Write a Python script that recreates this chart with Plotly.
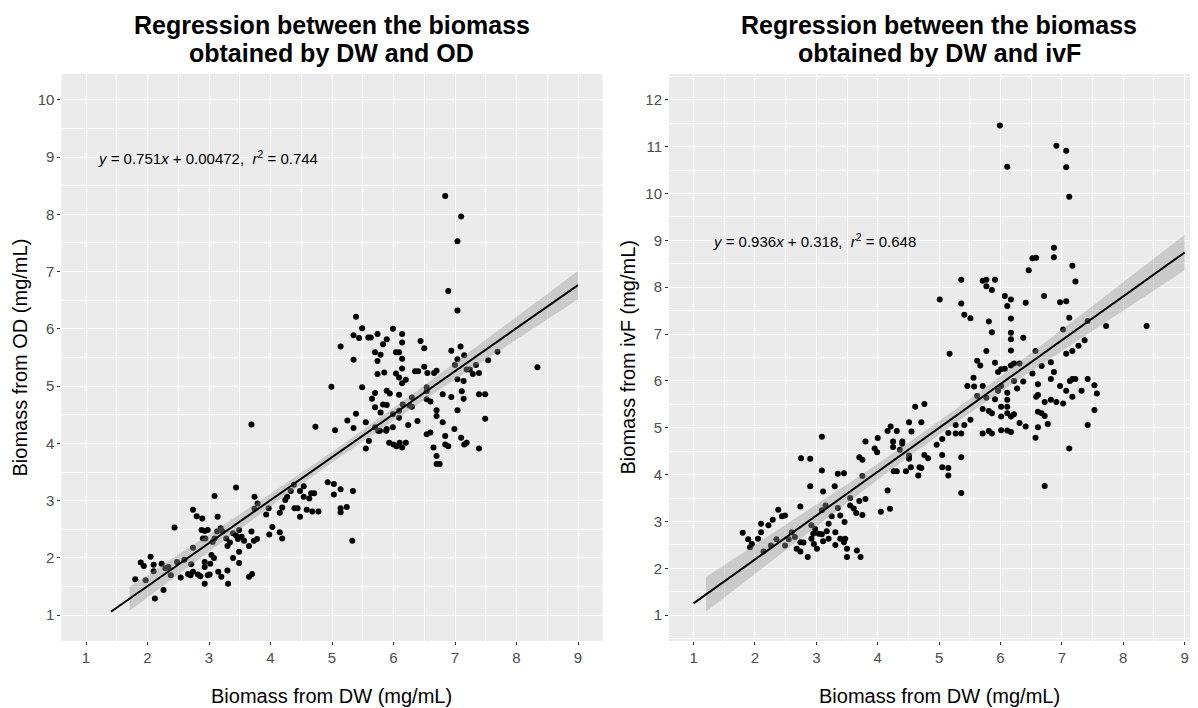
import numpy as np
import plotly.graph_objects as go

# ---------------- data ----------------
dw_od = [3.69, 4.73, 1.80, 1.97, 2.12, 2.26, 1.89, 1.94, 2.05, 2.10, 2.10, 2.23, 2.29, 2.34, 2.38, 2.44, 2.48, 2.54, 2.60, 2.66,
         2.70, 2.71, 2.74, 2.74, 2.80, 2.74, 2.82, 2.86, 2.89, 2.93, 2.93, 2.93, 2.98, 3.01, 3.02, 3.04, 3.08, 3.09, 3.14, 3.15,
         3.20, 3.30, 3.31, 3.39, 3.44, 3.49, 3.49, 3.65, 3.70,
         2.88, 2.93, 2.98, 2.90, 2.94, 3.06, 3.09, 3.13, 3.19, 3.22, 3.28, 3.30, 3.34, 3.39, 3.44, 3.47, 3.49, 3.53, 3.57, 3.65,
         3.69, 3.73, 3.78,
         3.74, 3.79, 3.74, 3.93, 3.97, 4.03, 3.98, 4.15, 4.19, 4.15, 4.19, 4.24, 4.27, 4.33, 4.38, 4.39, 4.44, 4.48, 4.48, 4.54,
         4.54, 4.59, 4.63, 4.66, 4.71, 4.68, 4.78, 4.93, 5.03, 5.03, 5.14, 5.14, 5.14, 5.24, 5.34, 5.33,
         6.84, 7.10, 7.04, 6.89, 7.04, 5.39, 5.49, 5.35, 5.44, 5.59, 5.63, 5.74, 5.83, 5.89, 5.99, 6.14, 6.14, 5.14, 5.35, 5.70,
         5.79, 5.74, 6.04, 6.09, 6.14, 6.44, 6.50, 5.74, 5.85, 6.09, 6.14, 6.20, 6.14, 6.35, 6.40, 6.50, 6.55, 6.66, 6.70, 6.94,
         7.09, 7.15, 7.04, 7.00, 7.19, 7.24, 7.34, 7.29, 7.39, 7.54, 7.69, 8.34, 7.04, 7.14, 4.99, 5.49, 5.70, 5.65, 5.89, 5.94,
         6.09, 5.70, 5.83, 5.89, 5.79, 5.39, 5.25, 5.55, 5.35, 5.05, 5.70, 5.78, 5.89, 5.99, 5.99, 6.09, 6.15, 6.30, 6.26, 6.09,
         6.24, 6.39, 6.54, 6.60, 6.54, 6.70, 6.70, 6.80, 6.80, 6.94, 7.04, 7.11, 7.14, 7.39, 7.49, 7.49, 6.99, 6.60, 6.54, 6.84,
         6.84, 6.89, 7.10, 7.15, 7.19, 7.39, 6.65, 6.70, 6.70, 6.75, 5.93, 6.00, 6.05, 6.10, 6.14, 6.20, 5.60, 5.55, 5.75, 5.88,
         6.04, 6.54, 6.30]
od = [4.33, 4.29, 1.63, 1.61, 1.29, 1.44, 1.92, 1.86, 2.02, 1.88, 1.77, 1.90, 1.82, 1.84, 1.70, 2.53, 1.93, 1.66, 1.97, 1.72,
      1.70, 1.89, 2.18, 2.84, 2.73, 1.76, 1.71, 1.68, 2.69, 1.93, 1.84, 1.55, 1.70, 1.71, 1.90, 2.05, 2.00, 3.08, 2.72, 1.76,
      1.67, 1.78, 1.55, 2.00, 3.23, 2.11, 1.91, 1.67, 1.72,
      2.49, 2.47, 2.49, 2.34, 2.34, 2.28, 2.34, 2.46, 2.52, 2.46, 2.34, 2.21, 2.27, 2.43, 2.39, 2.33, 2.49, 2.37, 2.30, 2.21,
      2.46, 2.30, 2.33,
      3.07, 2.95, 2.86, 2.76, 2.87, 2.54, 2.41, 2.45, 2.34, 2.79, 2.88, 3.01, 3.07, 3.17, 3.28, 2.87, 2.87, 3.17, 2.72, 3.25,
      3.07, 2.84, 3.04, 3.13, 3.13, 2.81, 2.81, 3.32, 3.29, 3.11, 3.20, 2.87, 2.80, 2.89, 3.17, 2.30,
      8.32, 7.96, 7.53, 6.66, 6.32, 6.21, 6.01, 5.89, 5.84, 5.85, 5.85, 5.91, 5.73, 5.82, 6.00, 5.91, 5.76, 5.69, 5.46, 5.59,
      5.55, 5.44, 5.59, 5.59, 5.48, 5.79, 5.66, 5.21, 5.24, 5.15, 5.31, 5.11, 5.05, 5.26, 5.26, 5.34, 5.23, 5.23, 5.27, 5.62,
      5.69, 5.54, 5.47, 5.37, 5.29, 5.29, 5.37, 5.21, 5.23, 5.45, 5.60, 5.33, 5.12, 5.09, 4.99, 4.98, 4.88, 4.78, 4.92, 4.87,
      4.85, 4.63, 4.68, 4.67, 4.54, 4.52, 4.40, 4.37, 4.27, 4.23, 4.28, 4.22, 4.25, 4.28, 4.51, 4.57, 4.68, 4.80, 4.66, 4.45,
      4.32, 4.39, 4.91, 4.73, 4.77, 4.58, 4.48, 4.86, 4.37, 4.81, 4.58, 4.91, 4.78, 4.86, 4.86, 4.43, 4.25, 4.19, 4.16, 4.13,
      3.98, 3.95, 4.10, 3.98, 4.01, 3.91, 3.93, 3.78, 3.64, 3.64, 4.01, 3.98, 3.95, 4.01, 3.93, 4.01, 4.04, 3.91, 4.22, 4.22,
      5.22, 4.98, 4.64]

dw_ivf = [1.80, 1.89, 1.95, 1.92, 2.05, 2.10, 2.10, 2.22, 2.29, 2.38, 2.44, 2.49, 2.14, 2.26, 2.35, 2.49, 2.55, 2.60, 2.65, 2.68,
          2.74, 2.86, 2.74, 2.75, 2.90, 2.79, 2.74, 2.92, 2.98, 2.95, 2.92, 2.96, 3.01, 3.04, 3.09, 3.11, 3.17, 3.20, 3.20, 3.25,
          3.31, 3.31, 3.39, 3.45, 3.47, 3.50, 3.50, 3.46, 3.39, 3.35, 3.09, 3.15, 3.11, 2.90, 3.09, 3.09, 3.30, 3.35, 3.45, 3.55,
          3.55, 3.61, 3.65, 3.70, 3.75, 3.80, 3.66, 3.72, 3.75, 3.70, 3.75, 3.80, 3.95, 3.99, 4.00, 4.05, 4.16, 4.20, 4.16, 4.21,
          4.31, 4.25, 4.25, 4.26, 4.31, 4.36, 4.40, 4.40, 4.46, 4.51, 4.51, 4.51, 4.55, 4.54, 4.61, 4.76, 4.71, 4.68, 4.71, 4.66,
          4.76, 4.82, 4.96, 5.05, 5.05, 5.05, 5.15, 5.15, 5.15,
          6.91, 7.07, 6.11, 7.07, 7.12, 6.87, 6.87, 6.52, 6.58, 6.46, 7.17, 7.22, 5.36, 5.71, 5.77, 5.91, 5.77, 5.86, 5.01, 5.36,
          6.07, 6.17, 6.11, 6.41, 6.71, 6.97, 7.07, 5.41, 5.51, 5.81, 6.17, 5.86, 6.17, 6.17, 6.37, 7.12, 7.02, 7.42, 7.72, 8.38,
          7.37, 7.27, 7.17, 7.07, 6.57, 6.17, 5.77, 5.17, 5.62, 5.67, 5.91, 5.96, 6.01, 6.07, 6.17, 6.22, 6.31, 6.52, 6.67, 6.82,
          6.87, 5.56, 5.46, 5.57, 5.71, 5.62, 5.77, 5.91, 5.96, 6.01, 6.11, 6.22, 6.27, 6.37, 6.61, 6.82, 6.97, 7.07, 7.13, 7.17,
          7.22, 7.42, 7.53, 7.57, 7.32, 7.17, 6.58, 6.61, 6.72, 6.82, 6.91, 7.02, 6.11, 6.11, 6.01, 5.71, 5.81, 5.86, 6.01, 6.11,
          6.17, 6.22, 6.31, 6.41, 6.61, 6.67, 6.72, 6.77, 6.61, 6.57, 7.53, 7.42, 7.12, 6.72, 5.51, 5.41, 5.27, 5.36, 5.27, 5.71,
          5.81, 5.86, 6.01, 6.11, 6.17, 5.36, 5.36, 5.99]
ivf = [2.76, 2.62, 2.52, 2.45, 2.63, 2.77, 2.95, 2.92, 3.04, 3.25, 3.11, 3.13, 2.36, 2.49, 2.62, 2.49, 2.62, 2.77, 2.67, 2.42,
       2.36, 2.24, 3.32, 4.35, 4.34, 2.55, 2.56, 2.92, 2.84, 2.74, 2.63, 2.52, 2.42, 2.74, 2.73, 2.58, 2.79, 2.63, 2.95, 3.11,
       2.77, 2.50, 2.63, 2.56, 2.63, 2.42, 2.24, 2.99, 3.13, 3.29, 3.24, 3.34, 3.64, 3.75, 4.09, 4.81, 3.75, 4.02, 4.03, 3.50,
       3.34, 3.28, 3.18, 3.44, 3.14, 3.48, 2.38, 2.24, 3.97, 4.37, 4.32, 4.71, 4.56, 4.48, 4.78, 3.21, 3.66, 3.27, 4.93, 5.03,
       4.93, 4.71, 4.59, 4.07, 4.07, 4.53, 4.71, 4.66, 4.07, 4.41, 4.34, 5.12, 4.92, 4.16, 5.45, 5.51, 5.12, 4.16, 4.14, 3.98,
       4.42, 4.35, 4.64, 4.76, 4.42, 4.16, 4.14, 3.98, 4.89,
       11.02, 10.91, 10.57, 10.56, 9.93, 8.84, 8.64, 8.62, 8.63, 8.36, 8.46, 8.12, 8.16, 8.14, 8.16, 8.16, 8.02, 7.94, 7.74, 7.65,
       7.81, 7.74, 7.60, 7.67, 7.81, 7.68, 7.70, 7.41, 7.34, 7.27, 7.33, 7.04, 7.03, 6.89, 6.92, 7.35, 7.10, 7.28, 7.17, 7.17,
       6.87, 6.75, 6.64, 6.58, 6.64, 6.65, 6.64, 6.58, 6.43, 6.33, 6.39, 6.19, 6.25, 6.26, 6.33, 6.37, 6.37, 6.16, 6.32, 6.40,
       6.19, 6.07, 5.89, 5.88, 5.89, 5.68, 5.64, 5.61, 5.79, 5.89, 5.75, 6.00, 5.84, 5.99, 5.93, 6.04, 5.89, 5.79, 6.00, 6.04,
       6.04, 6.04, 5.91, 5.73, 5.79, 5.66, 5.66, 5.70, 5.55, 5.60, 5.55, 5.52, 5.60, 5.45, 5.45, 5.40, 5.36, 5.31, 5.24, 5.31,
       5.24, 5.29, 5.10, 5.03, 5.34, 5.31, 5.25, 5.08, 5.01, 4.79, 5.38, 5.06, 4.56, 3.76, 5.17, 5.06, 5.06, 4.88, 4.88, 4.88,
       4.93, 4.88, 4.95, 4.94, 4.91, 4.37, 3.61, 11.45]

# regression results printed on the chart
fit_od = {"slope": 0.751, "intercept": 0.00472, "r2": 0.744}
fit_ivf = {"slope": 0.936, "intercept": 0.318, "r2": 0.648}

title_lines = [["Regression between the biomass", "obtained by DW and OD"],
               ["Regression between the biomass", "obtained by DW and ivF"]]
xlabel = "Biomass from DW (mg/mL)"
ylabels = ["Biomass from OD (mg/mL)", "Biomass from ivF (mg/mL)"]
x_ticks = list(range(1, 10))
y_ticks_od = list(range(1, 11))
y_ticks_ivf = list(range(1, 13))

# ---------------- figure ----------------
# the page has an 8px body margin, so the figure is drawn 8px in from the window corner
OFF = 8
W, H = 1198 - OFF, 708 - OFF
FONT = "Liberation Sans, Arial, sans-serif"


def px_x(p):
    return (p - OFF) / W


def px_y(p):
    return 1 - (p - OFF) / H


top, bottom = 74, 641
dom_y = [px_y(bottom), px_y(top)]
dom_x1 = [px_x(61.4), px_x(602.6)]
dom_x2 = [px_x(669.0), 1.0]

fig = go.Figure()


def band(xs, fit, ylim_low):
    """95% confidence band of the fitted line, using the printed slope/intercept/r2."""
    xs = np.asarray(xs, float)
    n = len(xs)
    xbar = xs.mean()
    sxx = np.sum((xs - xbar) ** 2)
    r2 = fit["r2"]
    s2 = fit["slope"] ** 2 * sxx * (1 - r2) / (r2 * (n - 2))
    grid = np.linspace(1, 9, 80)
    yhat = fit["intercept"] + fit["slope"] * grid
    se = np.sqrt(s2 * (1 / n + (grid - xbar) ** 2 / sxx))
    lo = yhat - 1.97 * se
    hi = yhat + 1.97 * se
    keep_line = yhat >= ylim_low
    keep_rib = lo >= ylim_low
    return grid[keep_line], yhat[keep_line], grid[keep_rib], lo[keep_rib], hi[keep_rib]


def add_panel(xs, ys, fit, xa, ya):
    fig.add_trace(go.Scatter(x=xs, y=ys, mode="markers", xaxis=xa, yaxis=ya,
                             marker=dict(color="black", size=6, line=dict(width=0)),
                             showlegend=False, hoverinfo="skip"))
    gl, yl, gr, lo, hi = band(xs, fit, 1.0)
    fig.add_trace(go.Scatter(x=np.concatenate([gr, gr[::-1]]), y=np.concatenate([hi, lo[::-1]]),
                             mode="lines", fill="toself", fillcolor="rgba(153,153,153,0.4)",
                             line=dict(width=0), xaxis=xa, yaxis=ya, showlegend=False, hoverinfo="skip"))
    fig.add_trace(go.Scatter(x=gl, y=yl, mode="lines", line=dict(color="black", width=2),
                             xaxis=xa, yaxis=ya, showlegend=False, hoverinfo="skip"))


add_panel(dw_od, od, fit_od, "x", "y")
add_panel(dw_ivf, ivf, fit_ivf, "x2", "y2")

axis_common = dict(showline=False, ticks="outside", ticklen=3, tickwidth=1, tickcolor="#333333",
                   gridcolor="white", gridwidth=1.2, zeroline=False,
                   tickfont=dict(family=FONT, size=15, color="#4D4D4D"),
                   minor=dict(dtick=0.5, showgrid=True, gridcolor="white", gridwidth=0.6, ticks=""))

fig.update_layout(
    width=W, height=H,
    margin=dict(l=0, r=0, t=0, b=0),
    paper_bgcolor="white", plot_bgcolor="#EBEBEB",
    font=dict(family=FONT),
    xaxis=dict(domain=dom_x1, range=[0.6, 9.4], tickvals=x_ticks, anchor="y", **axis_common),
    yaxis=dict(domain=dom_y, range=[0.55, 10.45], tickvals=y_ticks_od, anchor="x", **axis_common),
    xaxis2=dict(domain=dom_x2, range=[0.6, 9.217], tickvals=x_ticks, anchor="y2", **axis_common),
    yaxis2=dict(domain=dom_y, range=[0.45, 12.55], tickvals=y_ticks_ivf, anchor="x2", **axis_common),
)

# titles (two lines each)
for cx, lines in [(331.5, title_lines[0]), (939.0, title_lines[1])]:
    for cy, t in zip([25, 53], lines):
        fig.add_annotation(text="<b>" + t + "</b>", xref="paper", yref="paper", x=px_x(cx), y=px_y(cy),
                           xanchor="center", yanchor="middle", showarrow=False,
                           font=dict(family=FONT, size=25, color="black"))
# x titles
for cx in [331.5, 939.0]:
    fig.add_annotation(text=xlabel, xref="paper", yref="paper", x=px_x(cx), y=px_y(696),
                       xanchor="center", yanchor="middle", showarrow=False,
                       font=dict(family=FONT, size=20, color="black"))
# y titles
for cx, t in [(19, ylabels[0]), (627, ylabels[1])]:
    fig.add_annotation(text=t, xref="paper", yref="paper", x=px_x(cx), y=px_y(357.5),
                       xanchor="center", yanchor="middle", textangle=-90, showarrow=False,
                       font=dict(family=FONT, size=20, color="black"))


def eq_text(fit):
    return ("<i>y</i> = %s<i>x</i> + %s,  <i>r</i><sup>2</sup> = %s"
            % (fit["slope"], fit["intercept"], fit["r2"]))


fig.add_annotation(text=eq_text(fit_od), xref="x", yref="y", x=1.16, y=9.0, xanchor="left", yanchor="middle",
                   showarrow=False, font=dict(family=FONT, size=15, color="black"))
fig.add_annotation(text=eq_text(fit_ivf), xref="x2", yref="y2", x=1.29, y=9.0, xanchor="left", yanchor="middle",
                   showarrow=False, font=dict(family=FONT, size=15, color="black"))

fig.write_html("out.html")
